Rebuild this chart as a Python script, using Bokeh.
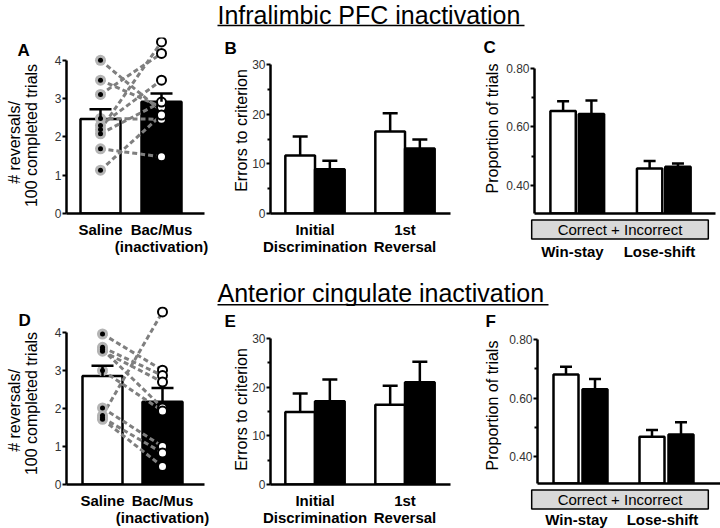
import numpy as np
from bokeh.plotting import figure
from bokeh.layouts import column, row
from bokeh.models import (ColumnDataSource, Whisker, TeeHead, FixedTicker, Label,
                          NumeralTickFormatter, Range1d)
from bokeh.embed import file_html
from bokeh.resources import INLINE

FONT = "Liberation Sans"

# ------------------------------------------------------------------ data
titles = ["Infralimbic PFC inactivation", "Anterior cingulate inactivation"]
conditions = ["Saline", "Bac/Mus\n(inactivation)"]
phases = ["Initial\nDiscrimination", "1st\nReversal"]
strategies = ["Win-stay", "Lose-shift"]
box_label = "Correct + Incorrect"
rev_title = ["# reversals/", "100 completed trials"]
err_title = "Errors to criterion"
prop_title = "Proportion of trials"

# A (infralimbic) reversals / 100 completed trials
il_rev_mean = [2.47, 2.92]
il_rev_sem = [0.25, 0.21]
il_rev_saline = [4.00, 3.48, 3.11, 2.48, 2.30, 2.19, 2.08, 1.69, 1.13]
il_rev_bacmus = [2.67, 2.78, 4.18, 2.46, 3.48, 4.48, 2.91, 1.48, 2.57]
# D (anterior cingulate)
ac_rev_mean = [2.85, 2.17]
ac_rev_sem = [0.27, 0.36]
ac_rev_saline = [3.95, 3.60, 3.50, 3.55, 2.99, 2.01, 1.81, 1.75, 1.71]
ac_rev_bacmus = [3.00, 2.86, 2.69, 2.01, 1.93, 1.00, 4.53, 0.83, 0.47]
# B errors to criterion
il_err_saline = [11.7, 16.5]
il_err_saline_sem = [3.8, 3.7]
il_err_bacmus = [8.9, 13.1]
il_err_bacmus_sem = [1.7, 1.8]
# E
ac_err_saline = [14.9, 16.4]
ac_err_saline_sem = [3.8, 3.9]
ac_err_bacmus = [17.1, 21.0]
ac_err_bacmus_sem = [4.5, 4.2]
# C proportion of trials
il_prop_saline = [0.654, 0.457]
il_prop_saline_sem = [0.034, 0.026]
il_prop_bacmus = [0.644, 0.463]
il_prop_bacmus_sem = [0.046, 0.011]
# F
ac_prop_saline = [0.681, 0.468]
ac_prop_saline_sem = [0.026, 0.023]
ac_prop_bacmus = [0.630, 0.476]
ac_prop_bacmus_sem = [0.035, 0.042]


# ------------------------------------------------------------------ helpers
def base_fig(w, h, xr, yr, **kw):
    p = figure(width=w, height=h, x_range=Range1d(*xr), y_range=Range1d(*yr),
               output_backend="svg", toolbar_location=None, tools="", title=None, **kw)
    p.outline_line_color = None
    p.background_fill_color = "white"
    p.border_fill_color = "white"
    return p


class TextFig:
    """Figure without axes whose frame is the whole canvas (for free text)."""

    def __init__(self, fx, fy, w, h, xr=None):
        self.fx, self.fy, self.w, self.h = fx, fy, w, h
        self.xr = xr if xr is not None else (0, w)
        self.p = base_fig(w, h, self.xr, (0, h), x_axis_type=None, y_axis_type=None,
                          min_border=0)
        self.p.grid.visible = False

    def y(self, py):
        return self.fy + self.h - py

    def x(self, px):
        return self.xr[0] + (px - self.fx) * (self.xr[1] - self.xr[0]) / self.w

    def label(self, x, py, text, size, bold=False, angle=0, align="left", **kw):
        self.p.add_layout(Label(x=x, y=self.y(py), text=text, text_font=FONT,
                                text_font_size=f"{size}px",
                                text_font_style="bold" if bold else "normal",
                                angle=angle, text_align=align, text_baseline="middle",
                                text_color="black", **kw))


class Panel:
    def __init__(self, fx, fy, fw, fh, left, right, top, bottom, xr, yr):
        self.left, self.right = left, right
        self.x0, self.x1 = xr
        self.sx = (right - left) / (xr[1] - xr[0])
        p = base_fig(fw, fh, xr, yr,
                     min_border_left=left - fx, min_border_right=fx + fw - right,
                     min_border_top=top - fy, min_border_bottom=fy + fh - bottom)
        p.grid.visible = False
        self.p = p


def style(panel, yticks, yminor, xlabels, xstandoff, ybounds=None, yfmt=None):
    p = panel.p
    for ax in p.axis:
        ax.axis_line_width = 2.5
        ax.axis_line_color = "black"
    xa = p.xaxis[0]
    if xlabels is None:
        xa.ticker = FixedTicker(ticks=[])
    else:
        xa.ticker = FixedTicker(ticks=[1, 2])
        xa.major_label_overrides = {1: xlabels[0], 2: xlabels[1]}
    xa.major_tick_line_color = None
    xa.minor_tick_line_color = None
    xa.major_tick_out = 0
    xa.major_tick_in = 0
    xa.major_label_standoff = xstandoff
    xa.major_label_text_font = FONT
    xa.major_label_text_font_style = "bold"
    xa.major_label_text_font_size = "15px"
    xa.major_label_text_color = "black"
    xa.major_label_text_line_height = 1.0
    ya = p.yaxis[0]
    ya.ticker = FixedTicker(ticks=yticks, minor_ticks=yminor)
    ya.major_tick_out = 4
    ya.major_tick_in = 0
    ya.major_tick_line_width = 2
    ya.minor_tick_out = 3
    ya.minor_tick_in = 0
    ya.minor_tick_line_width = 2
    ya.major_label_standoff = 1
    ya.major_label_text_font = FONT
    ya.major_label_text_font_size = "12px"
    ya.major_label_text_color = "#333333"
    if ybounds is not None:
        ya.bounds = ybounds
    if yfmt is not None:
        ya.formatter = NumeralTickFormatter(format=yfmt)


def whiskers(p, xs, means, sems, cap):
    src = ColumnDataSource(dict(x=list(xs), lower=list(means),
                                upper=[m + s for m, s in zip(means, sems)]))
    w = Whisker(source=src, base="x", lower="lower", upper="upper", dimension="height",
                lower_head=None,
                upper_head=TeeHead(size=cap, line_width=2.5, line_color="black"),
                line_width=2.5, line_color="black", level="glyph")
    p.add_layout(w)


def reversal_panel(panel, means, sems, saline, bacmus, barw):
    p = panel.p
    xs = np.arange(1, len(conditions) + 1)
    p.vbar(x=xs, top=means, width=barw, fill_color=["white", "black"],
           line_color="black", line_width=2.5)
    whiskers(p, xs, means, sems, 22)
    n = len(saline)
    p.segment(x0=[1] * n, y0=saline, x1=[2] * n, y1=bacmus, line_color="#7f7f7f",
              line_width=3, line_dash="5 3")
    p.scatter(x=[1] * n, y=saline, size=11, fill_color="#b4b4b4", line_color=None)
    p.scatter(x=[1] * n, y=saline, size=5, fill_color="black", line_color=None)
    p.scatter(x=[2] * n, y=bacmus, size=9, fill_color="white", line_color="black",
              line_width=2)
    style(panel, [0, 1, 2, 3, 4], [], conditions, 7, ybounds=(0, 4))


def pair_panel(panel, sal, sal_sem, bm, bm_sem, off, barw, cap, labels, standoff,
               yticks, yminor, yfmt=None):
    p = panel.p
    xs = np.arange(1, 3)
    p.vbar(x=xs - off, top=sal, width=barw, fill_color="white", line_color="black",
           line_width=2.5)
    p.vbar(x=xs + off, top=bm, width=barw, fill_color="black", line_color="black",
           line_width=2.5)
    whiskers(p, xs - off, sal, sal_sem, cap)
    whiskers(p, xs + off, bm, bm_sem, cap)
    style(panel, yticks, yminor, labels, standoff, yfmt=yfmt)


def strategy_strip(panel, fx, fy, w, h, box_py, lab_py):
    """Grey 'Correct + Incorrect' box and strategy names below panel C / F,
    sharing the panel's horizontal scale."""
    xr = (panel.x0 - (panel.left - fx) / panel.sx,
          panel.x1 + (fx + w - panel.right) / panel.sx)
    t = TextFig(fx, fy, w, h, xr=xr)
    t.label(t.x(619.5), box_py, box_label, 15, align="center",
            background_fill_color="#d9d9d9", border_line_color="black",
            border_line_width=1.5, padding=(26, 1))
    for i, name in enumerate(strategies):
        t.label(i + 1 - 4 / panel.sx, lab_py, name, 15, bold=True, align="center")
    return t.p


def title_fig(fy, h, text, width_px, mid_py, line_py):
    t = TextFig(0, fy, 720, h)
    t.label(217, mid_py, text, 25)
    t.p.segment(x0=[217], y0=[t.y(line_py)], x1=[217 + width_px], y1=[t.y(line_py)],
                line_color="black", line_width=1.5)
    return t.p


def side_fig(fx, fy, w, h, letter, lx, lpy, title, tx, tpy):
    t = TextFig(fx, fy, w, h)
    t.label(lx - fx, lpy, letter, 17, bold=True)
    if isinstance(title, str):
        t.label(tx - fx, tpy, title, 16, angle=np.pi / 2, align="center")
    else:  # two lines, each centred on its own column
        for line, dx, dy in zip(title, (-8.5, 8.5), (7, 0)):
            t.label(tx + dx - fx, tpy + dy, line, 16, angle=np.pi / 2, align="center")
    return column(t.p)


# ------------------------------------------------------------------ title strips
t1 = title_fig(0, 28, titles[0], 307, 14.5, 25)
t2 = title_fig(268, 38, titles[1], 331, 292.5, 304.3)

# ------------------------------------------------------------------ row 1 (y 28..268)
LA = side_fig(0, 28, 50, 240, "A", 17, 50, rev_title, 22, 135)
A = Panel(50, 28, 170, 240, 66, 204, 37, 213, (1 - 34 / 61, 2 + 43 / 61), (0, 4.595))
reversal_panel(A, il_rev_mean, il_rev_sem, il_rev_saline, il_rev_bacmus, 40 / 61)

LB = side_fig(220, 28, 29, 240, "B", 224, 48, err_title, 240.5, 130)
B = Panel(249, 28, 229, 240, 268, 450, 64, 213, (1 - 45 / 91, 2 + 46 / 91), (0, 30))
pair_panel(B, il_err_saline, il_err_saline_sem, il_err_bacmus, il_err_bacmus_sem,
           15 / 91, 30 / 91, 15, phases, 7, [0, 10, 20, 30], [5, 15, 25])

LC = side_fig(478, 28, 25, 240, "C", 483, 47, prop_title, 492, 128)
C = Panel(503, 28, 217, 189, 533, 715, 68, 213, (1 - 43 / 87, 2 + 52 / 87), (0.303, 0.80))
pair_panel(C, il_prop_saline, il_prop_saline_sem, il_prop_bacmus, il_prop_bacmus_sem,
           14.25 / 87, 25.5 / 87, 12, None, 0, [0.4, 0.6, 0.8], [0.5, 0.7],
           yfmt="0.00")
Cb = strategy_strip(C, 503, 217, 217, 51, 229, 250.5)

# ------------------------------------------------------------------ row 2 (y 306..528)
LD = side_fig(0, 306, 50, 222, "D", 18, 319.5, rev_title, 22, 403)
D = Panel(50, 306, 170, 222, 66, 204, 306, 484, (1 - 36 / 60, 2 + 42 / 60), (0, 4.672))
reversal_panel(D, ac_rev_mean, ac_rev_sem, ac_rev_saline, ac_rev_bacmus, 40 / 60)

LE = side_fig(220, 306, 29, 222, "E", 224, 321, err_title, 240.5, 409)
E = Panel(249, 306, 229, 222, 268, 450, 338, 486, (1 - 45 / 91, 2 + 46 / 91), (0, 30))
pair_panel(E, ac_err_saline, ac_err_saline_sem, ac_err_bacmus, ac_err_bacmus_sem,
           15 / 91, 30 / 91, 15, phases, 7, [0, 10, 20, 30], [5, 15, 25])

LF = side_fig(478, 306, 25, 222, "F", 485, 321, prop_title, 492, 405)
F = Panel(503, 306, 217, 181, 537, 720, 339, 483, (1 - 43 / 86, 2 + 54 / 86), (0.309, 0.80))
pair_panel(F, ac_prop_saline, ac_prop_saline_sem, ac_prop_bacmus, ac_prop_bacmus_sem,
           14.5 / 86, 25 / 86, 12, None, 0, [0.4, 0.6, 0.8], [0.5, 0.7],
           yfmt="0.00")
Fb = strategy_strip(F, 503, 487, 217, 41, 499, 518.5)

layout = column(t1,
                row(LA, column(A.p), LB, column(B.p), LC,
                    column(column(C.p), column(Cb))),
                t2,
                row(LD, column(D.p), LE, column(E.p), LF,
                    column(column(F.p), column(Fb))))

open("out.html", "w").write(file_html(layout, INLINE))
